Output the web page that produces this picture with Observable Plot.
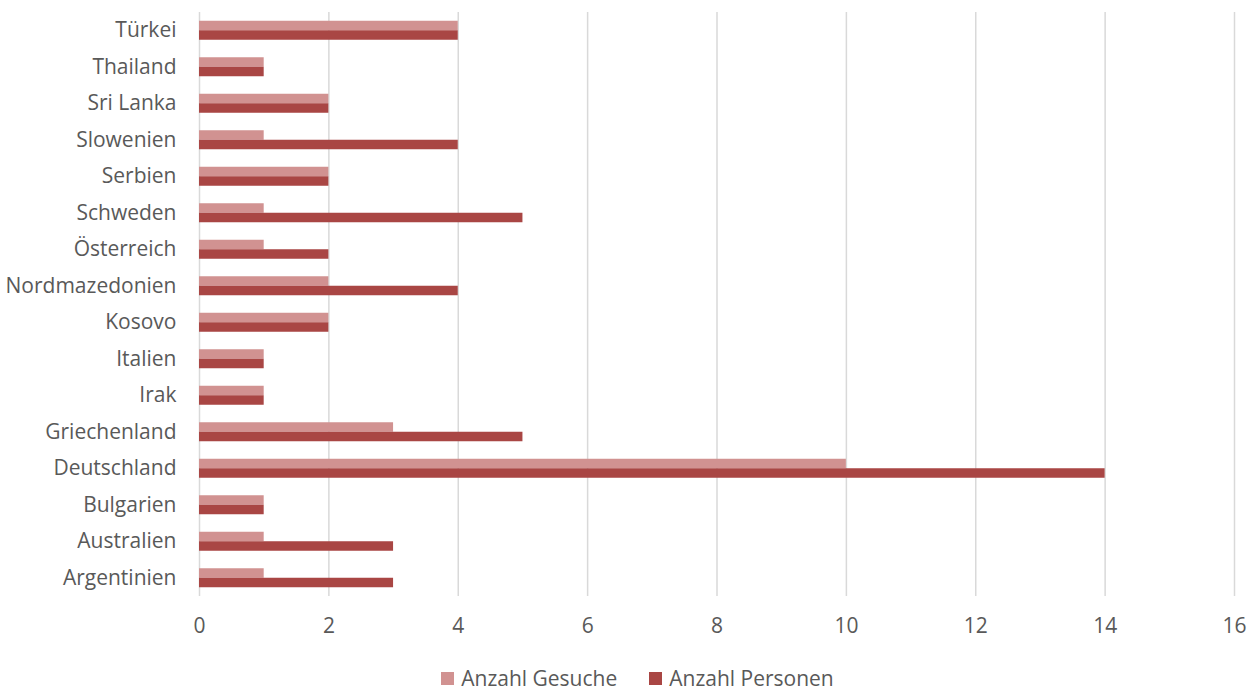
<!DOCTYPE html>
<html>
<head>
<meta charset="utf-8">
<script src="https://cdn.jsdelivr.net/npm/d3@7"></script>
<script src="https://cdn.jsdelivr.net/npm/@observablehq/plot@0.6"></script>
<style>
  body { margin: 0; background: #fff; font-family: "Open Sans", Lato, sans-serif; overflow: hidden; }
  #legend { display: flex; justify-content: center; gap: 32px; font-size: 21px; color: #595959; margin-top: 18px; padding-left: 18px; line-height: 1; }
  #legend span.item { display: flex; align-items: center; gap: 7px; }
  #legend span.sw { width: 13px; height: 13px; display: inline-block; }
</style>
</head>
<body>
<div id="chart"></div>
<div id="legend"></div>
<script>
const countries = ["Türkei","Thailand","Sri Lanka","Slowenien","Serbien","Schweden","Österreich","Nordmazedonien","Kosovo","Italien","Irak","Griechenland","Deutschland","Bulgarien","Australien","Argentinien"];
const gesuche  = [4,1,2,1,2,1,1,2,2,1,1,3,10,1,1,1];
const personen = [4,1,2,4,2,5,2,4,2,1,1,5,14,1,3,3];
const seriesNames = ["Anzahl Gesuche","Anzahl Personen"];
const seriesColors = ["#d19291","#a94644"];
const xTicks = [0,2,4,6,8,10,12,14,16];

const tableG = countries.map((c,i) => ({country:c, value:gesuche[i], series:seriesNames[0]}));
const tableP = countries.map((c,i) => ({country:c, value:personen[i], series:seriesNames[1]}));

const font = "'Open Sans', Lato, sans-serif";
const chart = Plot.plot({
  width: 1257, height: 650,
  marginLeft: 199, marginRight: 23, marginTop: 12, marginBottom: 54,
  style: {fontFamily: font, fontSize: "21px", color: "#595959", background: "#fff"},
  x: {domain: [0,16], label: null},
  y: {domain: countries, padding: 0, round: false, label: null},
  marks: [
    Plot.gridX(xTicks, {stroke: "#d9d9d9", strokeOpacity: 1, strokeWidth: 1.5}),
    Plot.barX(tableG, {x: "value", y: "country", fill: seriesColors[0], insetTop: 8.75, insetBottom: 18.25}),
    Plot.barX(tableP, {x: "value", y: "country", fill: seriesColors[1], insetTop: 18.25, insetBottom: 8.75}),
    Plot.axisX(xTicks, {tickSize: 0, tickPadding: 22, label: null, fontSize: 21, fill: "#595959"}),
    Plot.axisY({tickSize: 0, tickPadding: 23, label: null, fontSize: 21, fill: "#595959"})
  ]
});
document.getElementById("chart").appendChild(chart);

const leg = document.getElementById("legend");
seriesNames.forEach((n,i) => {
  const it = document.createElement("span"); it.className = "item";
  const sw = document.createElement("span"); sw.className = "sw"; sw.style.background = seriesColors[i];
  const t = document.createElement("span"); t.textContent = n;
  it.appendChild(sw); it.appendChild(t); leg.appendChild(it);
});
</script>
</body>
</html>
